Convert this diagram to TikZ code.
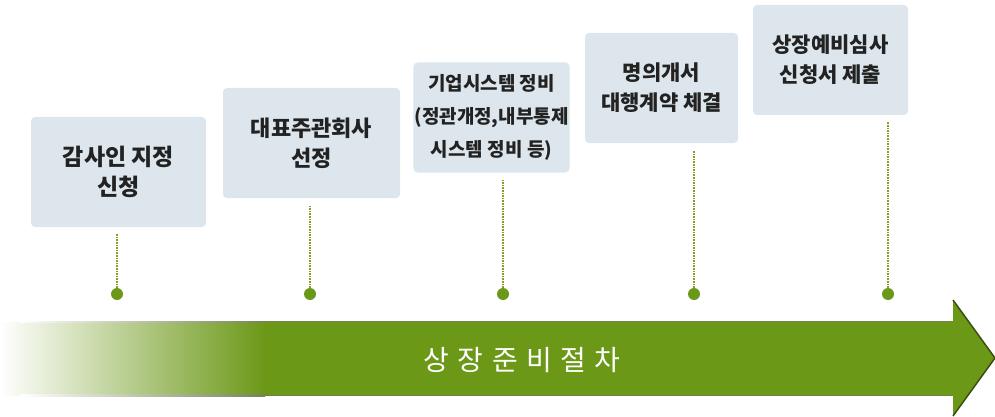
\documentclass[tikz,border=0pt]{standalone}
\usepackage{fontspec}
\setmainfont{Noto Sans CJK KR}
\newfontfamily\kolabel[LetterSpace=30]{Noto Sans CJK KR}
\usetikzlibrary{positioning}
\definecolor{lsgreen}{RGB}{108,152,24}
\definecolor{lsdarkgreen}{RGB}{58,80,14}
\definecolor{lsdotgreen}{RGB}{128,160,36}
\definecolor{lsbox}{RGB}{220,230,236}
\definecolor{lstext}{RGB}{34,34,34}
\tikzstyle{stage} = [rectangle, rounded corners=4pt, minimum width=155pt, minimum height=110pt, align=center, inner sep=1pt, fill=lsbox, text=lstext, font=\fontsize{21}{30}\selectfont\bfseries]
\tikzstyle{marker} = [circle, fill=lsgreen, minimum size=12pt, inner sep=0pt]
\tikzstyle{dotline} = [densely dotted, line width=1.6pt, color=lsdotgreen, shorten >=7pt]
\begin{document}
\begin{tikzpicture}[x=1pt,y=-1pt]
\useasboundingbox (0,0) rectangle (995,417);
% Arrow
\fill[left color=white, right color=lsgreen] (0,322) rectangle (265,395);
\fill[lsgreen] (264,322) -- (953,322) -- (953,300) -- (995,358) -- (953,416) -- (953,395) -- (264,395) -- cycle;
\shade[left color=white, right color=lsdarkgreen!70] (20,321) rectangle (265,322.8);
\shade[left color=white, right color=lsdarkgreen!70] (20,394.2) rectangle (265,396);
\draw[lsdarkgreen, line width=1.2pt, opacity=0.7] (265,321.6) -- (953,321.6) (265,395.4) -- (953,395.4);
\draw[lsdarkgreen, line width=1.5pt] (953,300) -- (995,358) -- (953,416);
\node (title) [text=white, font=\kolabel\fontsize{28}{28}\selectfont] at (522,360) {상장준비절차};
% Stages
\node (audit) [stage, minimum width=175pt, font=\fontsize{23}{30}\selectfont\bfseries] at (118.5,172) {감사인 지정\\신청};
\node (underwriter) [stage, minimum width=177pt, font=\fontsize{22}{30}\selectfont\bfseries] at (311.5,143) {대표주관회사\\선정};
\node (system) [stage, minimum width=153pt, font=\fontsize{19}{33}\selectfont\bfseries] at (491.5,117.5) {기업시스템 정비\\(정관개정,내부통제\\시스템 정비 등)};
\node (transfer) [stage, minimum width=153pt] at (661.5,88) {명의개서\\대행계약 체결};
\node (filing) [stage] at (830.5,60) {상장예비심사\\신청서 제출};
% Markers
\node (m1) [marker] at (117,294) {};
\node (m2) [marker] at (310,294) {};
\node (m3) [marker] at (503,294) {};
\node (m4) [marker] at (694,294) {};
\node (m5) [marker] at (888,294) {};
\foreach \m/\b in {m1/audit, m2/underwriter, m3/system, m4/transfer, m5/filing}
  \draw[dotline] (\m) -- (\m |- \b.south);
\end{tikzpicture}
\end{document}
